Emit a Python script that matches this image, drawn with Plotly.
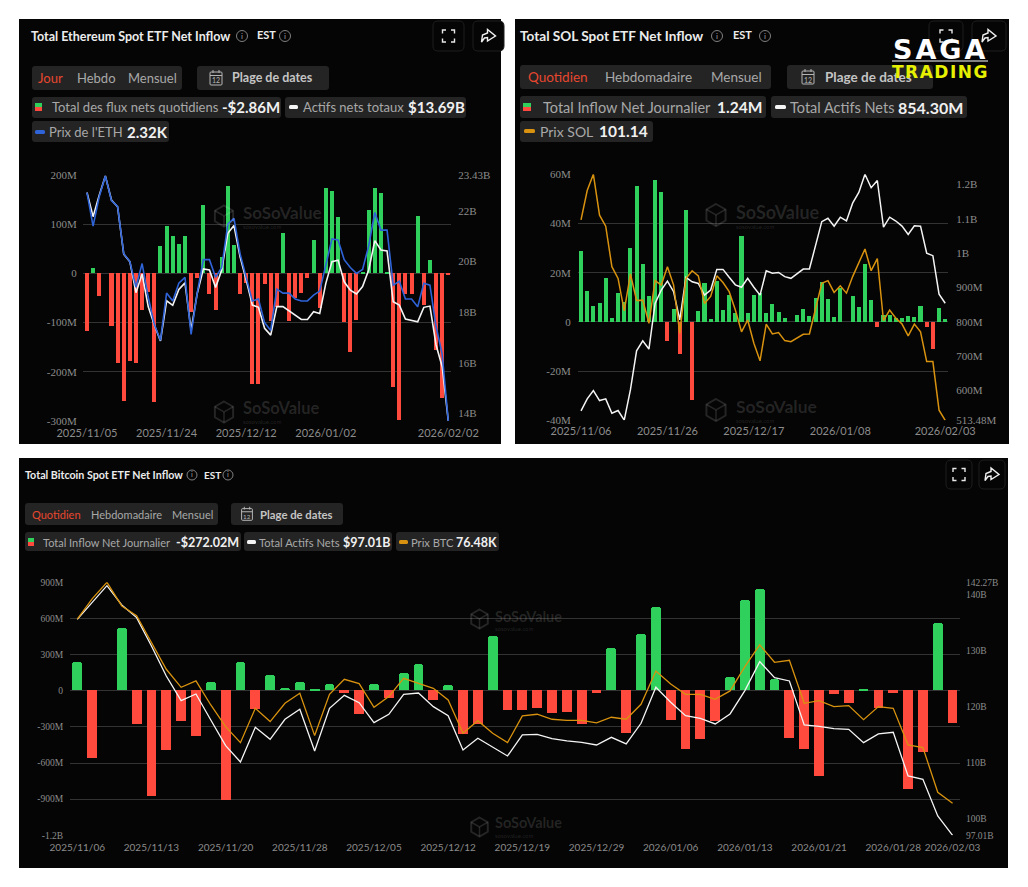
import plotly.graph_objects as go

W, H = 1028, 887

# ---------- data ----------
eth_dates = ["2025/11/05","2025/11/06","2025/11/07","2025/11/10","2025/11/11","2025/11/12","2025/11/13","2025/11/14","2025/11/17","2025/11/18",
             "2025/11/19","2025/11/20","2025/11/21","2025/11/24","2025/11/25","2025/11/26","2025/11/28","2025/12/01","2025/12/02","2025/12/03",
             "2025/12/04","2025/12/05","2025/12/08","2025/12/09","2025/12/10","2025/12/11","2025/12/12","2025/12/15","2025/12/16","2025/12/17",
             "2025/12/18","2025/12/19","2025/12/22","2025/12/23","2025/12/24","2025/12/26","2025/12/29","2025/12/30","2025/12/31","2026/01/02",
             "2026/01/05","2026/01/06","2026/01/07","2026/01/08","2026/01/09","2026/01/12","2026/01/13","2026/01/14","2026/01/15","2026/01/16",
             "2026/01/20","2026/01/21","2026/01/22","2026/01/23","2026/01/26","2026/01/27","2026/01/28","2026/01/29","2026/01/30","2026/02/02"]
eth_ticks = ["2025/11/05","2025/11/24","2025/12/12","2026/01/02","2026/02/02"]
eth_flow = [-118,12,-46,0,-106,-183,-259,-178,-183,-75,-37,-261,55,96,77,60,76,-79,-10,140,-41,-75,34,177,57,-41,-19,-224,-224,-22,
            -97,-68,83,-96,-51,-39,-10,67,-71,174,168,114,-98,-159,-94,3,129,174,164,3,-230,-297,-42,-42,117,-64,27,-155,-253,-2.86]
eth_assets = [22.74,21.78,22.63,23.39,22.44,22.17,20.30,20.00,18.77,19.51,18.22,17.49,16.86,18.45,18.27,18.90,19.16,17.29,18.74,19.71,
              19.67,18.98,19.67,21.12,21.43,20.19,19.27,18.28,18.19,17.36,17.09,18.22,18.22,18.04,17.86,17.71,17.71,18.02,17.95,19.14,
              20.00,20.06,19.20,18.87,18.72,19.01,19.67,20.83,20.46,20.42,18.41,18.28,17.73,17.69,17.62,18.19,18.24,16.70,15.84,13.69]
eth_price = [3.48,3.31,3.46,3.565,3.44,3.41,3.17,3.13,3.00,3.12,2.95,2.81,2.73,2.97,2.93,3.02,3.05,2.76,2.97,3.14,
             3.14,3.05,3.10,3.32,3.35,3.17,3.05,2.93,2.94,2.82,2.78,2.99,2.97,2.97,2.94,2.93,2.93,2.96,2.98,3.12,
             3.245,3.24,3.14,3.10,3.07,3.09,3.21,3.38,3.29,3.29,3.01,3.03,2.94,2.94,2.90,3.02,3.01,2.80,2.66,2.32]

sol_dates = ["2025/11/06","2025/11/07","2025/11/10","2025/11/11","2025/11/12","2025/11/13","2025/11/14","2025/11/17","2025/11/18","2025/11/19",
             "2025/11/20","2025/11/21","2025/11/24","2025/11/25","2025/11/26","2025/11/28","2025/12/01","2025/12/02","2025/12/03","2025/12/04",
             "2025/12/05","2025/12/08","2025/12/09","2025/12/10","2025/12/11","2025/12/12","2025/12/15","2025/12/16","2025/12/17","2025/12/18",
             "2025/12/19","2025/12/22","2025/12/23","2025/12/24","2025/12/26","2025/12/29","2025/12/30","2025/12/31","2026/01/02","2026/01/05",
             "2026/01/06","2026/01/07","2026/01/08","2026/01/09","2026/01/12","2026/01/13","2026/01/14","2026/01/15","2026/01/16","2026/01/20",
             "2026/01/21","2026/01/22","2026/01/23","2026/01/26","2026/01/27","2026/01/28","2026/01/29","2026/01/30","2026/02/02","2026/02/03"]
sol_ticks = ["2025/11/06","2025/11/26","2025/12/17","2026/01/08","2026/02/03"]
sol_flow = [28.9,12.3,6.5,7.7,17.8,1.4,11.8,8,29.8,55.3,23.4,10.4,57.7,52.8,-7.9,5.1,-13.3,45.5,-32,4.3,
            15.6,1,16.5,4.7,10.8,3.4,35,3.4,10.8,11.5,3.4,7.3,4.1,1.4,0,2.8,5,2.2,9.5,16,
            9.1,1.9,13.8,0,10.6,5.8,23.3,8.8,-2,2.8,2.8,1.4,1.6,2.2,1.9,6.5,-2,-11.1,5.4,1.24]
sol_assets = [541,576,600,571,576,534,542,514,602,716,745,721,854,893,919,888,806,930,917,912,
              878,893,953,953,930,908,901,927,901,878,949,942,944,932,927,940,954,954,1024,1092,
              1102,1079,1105,1094,1146,1177,1230,1191,1212,1076,1105,1094,1079,1055,1080,1079,1000,993,881,854.3]
sol_price = [155.6,163.6,168.0,156.9,153.9,142.9,139.7,130.9,140.9,133.7,133.8,127.5,139.1,137.9,142.9,137.9,124.8,139.7,141.8,140.4,
             132.9,134.8,140.4,138.6,136.1,131.1,125.2,128.4,122.1,117.3,127.3,124.6,125.0,122.8,122.5,123.6,124.5,124.6,131.9,138.4,
             139.1,135.9,137.7,135.7,140.2,143.8,147.7,141.8,145.1,128.2,131.1,128.9,127.3,124.1,127.3,125.2,117.1,117.1,103.9,101.14]

btc_ticks = ["2025/11/06","2025/11/13","2025/11/20","2025/11/28","2025/12/05","2025/12/12","2025/12/19",
             "2025/12/29","2026/01/06","2026/01/13","2026/01/21","2026/01/28","2026/02/03"]
btc_flow = [235,-562,0,520,-282,-875,-498,-257,-376,72,-908,235,-152,125,17,69,6,55,-19,-199,
            50,-66,147,219,-80,44,-365,-282,454,-166,-160,-144,-191,-177,-280,-20,349,-351,465,692,
            -244,-487,-401,-255,111,747,839,94,-396,-484,-711,-33,-105,6,-144,-22,-819,-512,556,-272.02]
btc_assets = [135.65,138.69,141.67,138.21,135.95,130.88,125.51,121.10,122.29,117.64,113.05,110.13,116.33,114.18,117.76,119.55,112.10,119.73,122.05,120.74,
              117.17,118.66,122.23,122.47,120.03,118.42,112.28,114.36,112.75,111.20,114.96,115.08,114.30,113.89,113.65,113.17,114.54,113.35,117.05,123.49,
              120.80,118.42,117.94,116.93,118.72,122.89,128.08,125.22,124.62,116.75,116.51,116.09,115.97,113.59,115.14,115.44,107.62,107.03,100.47,97.01]
btc_price = [101.49,104.25,106.51,103.30,101.98,98.31,94.69,92.24,93.11,89.84,86.90,84.72,89.39,87.58,90.07,91.43,85.68,91.29,93.33,92.74,
             89.53,90.98,93.47,92.79,92.11,90.52,85.99,87.71,85.99,84.72,88.35,88.58,87.90,87.76,87.76,87.40,88.17,87.90,89.93,94.46,
             92.70,91.29,91.29,90.61,91.75,95.05,98.00,95.64,95.91,90.07,90.43,89.62,89.75,87.85,89.62,89.39,84.41,84.05,77.97,76.48]

# ---------- styling ----------
PANEL = "#050505"
PILL = "#242424"
GRID = "#333333"
TICK = "#8c8c8c"
GREEN = "#2fd05c"
RED = "#ff4a3d"
WHITE = "#f4f4f4"
BLUE = "#2f63d8"
ORANGE = "#d8920f"
ACTIVE = "#e8472f"
SANS = "Lato"
SERIF = "Liberation Serif"

def px(x): return x / W
def py(y): return 1 - y / H

shapes, notes = [], []

def rect(x0, y0, x1, y1, fill, r=3, line=None):
    d = (f"M{px(x0+r)},{py(y0)} L{px(x1-r)},{py(y0)} Q{px(x1)},{py(y0)} {px(x1)},{py(y0+r)} "
         f"L{px(x1)},{py(y1-r)} Q{px(x1)},{py(y1)} {px(x1-r)},{py(y1)} L{px(x0+r)},{py(y1)} "
         f"Q{px(x0)},{py(y1)} {px(x0)},{py(y1-r)} L{px(x0)},{py(y0+r)} Q{px(x0)},{py(y0)} {px(x0+r)},{py(y0)} Z")
    shapes.append(dict(type="path", path=d, xref="paper", yref="paper", fillcolor=fill,
                       line=dict(color=line or fill, width=1 if line else 0), layer="below"))

def poly(points, color, width=1.2, fill=None, close=False, layer="below"):
    d = "M" + " L".join(f"{px(a)},{py(b)}" for a, b in points) + (" Z" if close else "")
    shapes.append(dict(type="path", path=d, xref="paper", yref="paper",
                       fillcolor=fill or "rgba(0,0,0,0)", line=dict(color=color, width=width), layer=layer))

def text(x, y, s, size, color, bold=False, font=SANS, anchor="left", spacing=None):
    body = f"<b>{s}</b>" if bold else s
    if spacing:
        body = f'<span style="letter-spacing:{spacing}px">{body}</span>'
    notes.append(dict(x=px(x), y=py(y), xref="paper", yref="paper", text=body,
                      showarrow=False, xanchor=anchor, yanchor="middle",
                      font=dict(family=font, size=size, color=color), borderpad=0, borderwidth=0))

def circle(cx, cy, r, color, width=1):
    shapes.append(dict(type="circle", xref="paper", yref="paper", x0=px(cx-r), x1=px(cx+r),
                       y0=py(cy+r), y1=py(cy-r), line=dict(color=color, width=width), layer="below"))

def info(cx, cy, r=5.5):
    circle(cx, cy, r, "#808080")
    text(cx, cy, "i", r*1.5, "#9a9a9a", anchor="center")

def icon_boxes(x1, x2, y0, y1, w):
    border = "#1e1e1e"
    rect(x1, y0, x1+w, y1, PANEL, 5, border)
    rect(x2, y0, x2+w, y1, PANEL, 5, border)
    cx, cy = x1+w/2, (y0+y1)/2
    s = 6
    c = "#e8e8e8"
    for sx in (-1, 1):
        for sy in (-1, 1):
            poly([(cx+sx*s, cy+sy*2.5), (cx+sx*s, cy+sy*s), (cx+sx*2.5, cy+sy*s)], c, 1.4)
    cx, cy = x2+w/2, (y0+y1)/2
    poly([(cx-7, cy+6), (cx-6, cy-1), (cx-1, cy-3), (cx-1, cy-6.5), (cx+7, cy), (cx-1, cy+5),
          (cx-1, cy+1.5), (cx-4, cy+2)], "#f0f0f0", 1.4, close=True)

def calendar(cx, cy, s=1.0):
    c = "#b5b5b5"
    rect(cx-6*s, cy-6*s, cx+6*s, cy+7*s, "rgba(0,0,0,0)", 1, c)
    poly([(cx-6*s, cy-2.5*s), (cx+6*s, cy-2.5*s)], c, 1)
    poly([(cx-3*s, cy-8*s), (cx-3*s, cy-5*s)], c, 1)
    poly([(cx+3*s, cy-8*s), (cx+3*s, cy-5*s)], c, 1)
    text(cx, cy+2.5*s, "12", 7*s, c, anchor="center")

def square_swatch(x0, y0, w, h):
    rect(x0, y0, x0+w, y0+h/2, GREEN, 0)
    rect(x0, y0+h/2, x0+w, y0+h, RED, 0)

def watermark(x, y, size, r, gap, main_y, sub_y):
    c = "rgba(255,255,255,0.13)"
    hexa = [(x, y-r), (x+r*.87, y-r/2), (x+r*.87, y+r/2), (x, y+r), (x-r*.87, y+r/2), (x-r*.87, y-r/2)]
    poly(hexa, c, 2, close=True, layer="above")
    poly([(x-r*.87, y-r/2), (x, y), (x+r*.87, y-r/2)], c, 1.5, layer="above")
    poly([(x, y), (x, y+r)], c, 1.5, layer="above")
    text(x+gap, main_y, "SoSoValue", size, c, bold=True)
    text(x+gap, sub_y, "sosovalue.com", 6, c)

# panels
rect(19, 19, 501, 444, PANEL, 0)
rect(515, 19, 1009, 444, PANEL, 0)
rect(19, 458, 1008, 868, PANEL, 0)

# ---- ETH header
text(31, 36, "Total Ethereum Spot ETF Net Inflow", 12.5, "#ececec", bold=True)
info(242, 36); text(257, 35, "EST", 11, "#ececec", bold=True); info(285, 36)
icon_boxes(433, 473, 21, 51, 31)
rect(32, 66, 182, 90, PILL, 3)
text(38, 78, "Jour", 13, ACTIVE); text(77, 78, "Hebdo", 13, "#a8a8a8"); text(128, 78, "Mensuel", 13, "#a8a8a8")
rect(197, 66, 329, 90, PILL, 3)
calendar(216, 78); text(232, 78, "Plage de dates", 12.5, "#c4c4c4", bold=True)
rect(32, 97, 281, 118, PILL, 3)
square_swatch(35, 103, 7, 8)
text(52, 107.5, "Total des flux nets quotidiens", 13, "#a8a8a8"); text(222, 107.5, "-$2.86M", 15, "#f0f0f0", bold=True)
rect(285, 97, 466, 118, PILL, 3)
rect(289, 105, 298, 109, WHITE, 1.5)
text(303, 107.5, "Actifs nets totaux", 13, "#a8a8a8"); text(408, 107.5, "$13.69B", 15, "#f0f0f0", bold=True)
rect(32, 121, 169, 142, PILL, 3)
rect(35, 130, 45, 134, BLUE, 1.5)
text(49, 132, "Prix de l'ETH", 13, "#a8a8a8"); text(127, 132, "2.32K", 15, "#f0f0f0", bold=True)

# ---- SOL header
text(520, 36, "Total SOL Spot ETF Net Inflow", 13.6, "#ececec", bold=True)
info(717, 36); text(733, 35, "EST", 11, "#ececec", bold=True); info(765, 36)
icon_boxes(929, 972, 21, 51, 34)
rect(520, 65, 771, 89, PILL, 3)
text(528, 77, "Quotidien", 13.5, ACTIVE); text(605, 77, "Hebdomadaire", 13.5, "#a8a8a8"); text(711, 77, "Mensuel", 13.5, "#a8a8a8")
rect(787, 65, 933, 89, PILL, 3)
calendar(808, 77); text(825, 77, "Plage de dates", 13.5, "#c4c4c4", bold=True)
rect(520, 96, 766, 118, PILL, 3)
square_swatch(523, 103, 8, 8)
text(543, 107, "Total Inflow Net Journalier", 14.5, "#a8a8a8"); text(717, 107, "1.24M", 15.5, "#f0f0f0", bold=True)
rect(771, 96, 967, 118, PILL, 3)
rect(775, 105, 786, 109, WHITE, 1.5)
text(790, 107, "Total Actifs Nets", 14.5, "#a8a8a8"); text(898, 107, "854.30M", 16, "#f0f0f0", bold=True)
rect(520, 121, 653, 142, PILL, 3)
rect(524, 129, 535, 133, ORANGE, 1.5)
text(540, 131, "Prix SOL", 14, "#a8a8a8"); text(599, 131, "101.14", 15.5, "#f0f0f0", bold=True)

# ---- BTC header
text(25, 475, "Total Bitcoin Spot ETF Net Inflow", 10.7, "#ececec", bold=True)
info(192, 475, 5); text(204, 474.5, "EST", 10, "#ececec", bold=True); info(228, 475, 5)
icon_boxes(946, 979, 460, 489, 26)
rect(25, 503, 218, 525, PILL, 3)
text(32, 514, "Quotidien", 11, ACTIVE); text(91, 514, "Hebdomadaire", 11, "#a8a8a8"); text(172, 514, "Mensuel", 11, "#a8a8a8")
rect(231, 503, 343, 525, PILL, 3)
calendar(247, 514, 0.9); text(260, 514, "Plage de dates", 11.3, "#c4c4c4", bold=True)
rect(25, 532, 241, 551, PILL, 3)
square_swatch(28, 538, 6, 8)
text(43, 542, "Total Inflow Net Journalier", 11, "#a8a8a8"); text(176, 542, "-$272.02M", 12.5, "#f0f0f0", bold=True)
rect(244, 532, 392, 551, PILL, 3)
rect(247, 540, 256, 544, WHITE, 1.5)
text(259, 542, "Total Actifs Nets", 11.2, "#a8a8a8"); text(343, 542, "$97.01B", 12.5, "#f0f0f0", bold=True)
rect(396, 532, 499, 551, PILL, 3)
rect(399, 540, 408, 544, ORANGE, 1.5)
text(411, 542, "Prix BTC", 11.2, "#a8a8a8"); text(456, 542, "76.48K", 12.5, "#f0f0f0", bold=True)

# watermarks
watermark(224, 216, 17, 10.5, 19, 212.5, 226)
watermark(224, 412, 16.5, 10.5, 19, 408, 421.5)
watermark(716, 215, 18, 11, 20, 212, 226)
watermark(716, 410, 17.5, 11, 20, 406, 420)
watermark(479.5, 619, 14.5, 9.5, 15, 616, 628.5)
watermark(479.5, 827, 14.5, 9.5, 15, 822.5, 835)

# SAGA TRADING logo
text(940, 49, "SAGA", 27, "#ffffff", bold=True, font="DejaVu Sans", anchor="center", spacing=3)
poly([(892, 61), (988, 61)], "#ffffff", 1.2, layer="above")
text(940, 72, "TRADING", 17, "#e6f000", bold=True, font="DejaVu Sans", anchor="center", spacing=1.5)

# ---------- charts ----------
fig = go.Figure()

def panel(idx, left, right, top, bottom, dates, ticks, flow, assets, price, line_color,
          xr, yl_range, yl_vals, yl_text, yr_range, yr_vals, yr_text, pr_range,
          xsize, ysize, radius, lw, len_x, len_l, len_r):
    xa = f"x{idx}"
    ya, yb, yc = f"y{3*idx-2}", f"y{3*idx-1}", f"y{3*idx}"
    colors = [GREEN if v >= 0 else RED for v in flow]
    fig.add_trace(go.Bar(x=dates, y=flow, width=0.66, marker=dict(color=colors, line_width=0,
                         cornerradius=radius), xaxis=xa, yaxis=ya, showlegend=False))
    fig.add_trace(go.Scatter(x=dates, y=assets, mode="lines", line=dict(color=WHITE, width=lw),
                             xaxis=xa, yaxis=yb, showlegend=False, cliponaxis=False))
    fig.add_trace(go.Scatter(x=dates, y=price, mode="lines", line=dict(color=line_color, width=lw),
                             xaxis=xa, yaxis=yc, showlegend=False, cliponaxis=False))
    key = "xaxis" if idx == 1 else f"xaxis{idx}"
    dom_x = [left/W, right/W]
    dom_y = [1-bottom/H, 1-top/H]
    layout = {}
    layout[key] = dict(domain=dom_x, type="category", categoryorder="array", categoryarray=dates,
                       range=xr, tickmode="array", tickvals=ticks, ticktext=ticks, showgrid=False,
                       showline=False, zeroline=False, ticks="outside", ticklen=len_x, tickcolor="rgba(0,0,0,0)",
                       tickangle=0, tickfont=dict(family=SANS, size=xsize, color=TICK), anchor=ya)
    ykey = lambda n: "yaxis" if n == 1 else f"yaxis{n}"
    layout[ykey(3*idx-2)] = dict(domain=dom_y, range=yl_range, tickmode="array", tickvals=yl_vals,
                                 ticktext=yl_text, showgrid=True, gridcolor=GRID, gridwidth=1, zeroline=False,
                                 showline=False, ticks="outside", ticklen=len_l, tickcolor="rgba(0,0,0,0)",
                                 tickfont=dict(family=SERIF, size=ysize, color=TICK), anchor=xa, side="left")
    layout[ykey(3*idx-1)] = dict(domain=dom_y, range=yr_range, tickmode="array", tickvals=yr_vals,
                                 ticktext=yr_text, showgrid=False, zeroline=False, showline=False,
                                 ticks="outside", ticklen=len_r, tickcolor="rgba(0,0,0,0)",
                                 tickfont=dict(family=SERIF, size=ysize, color=TICK), anchor=xa, side="right",
                                 overlaying=ya)
    layout[ykey(3*idx)] = dict(domain=dom_y, range=pr_range, visible=False, anchor=xa, overlaying=ya)
    fig.update_layout(**layout)

panel(1, 83, 451, 175, 421, eth_dates, eth_ticks, eth_flow, eth_assets, eth_price, BLUE,
      [-0.65, 59.44], [-300, 200], [200, 100, 0, -100, -200, -300],
      ["200M", "100M", "0", "-100M", "-200M", "-300M"],
      [13.69, 23.43], [23.43, 22, 20, 18, 16, 14], ["23.43B", "22B", "20B", "18B", "16B", "14B"],
      [2.32, 3.57], 11, 11, 1, 1.6, 2, 3, 4)
panel(2, 578, 948, 174.3, 420.3, sol_dates, sol_ticks, sol_flow, sol_assets, sol_price, ORANGE,
      [-0.49, 59.45], [-40, 60], [60, 40, 20, 0, -20, -40], ["60M", "40M", "20M", "0", "-20M", "-40M"],
      [513.48, 1230], [1200, 1100, 1000, 900, 800, 700, 600, 513.48],
      ["1.2B", "1.1B", "1B", "900M", "800M", "700M", "600M", "513.48M"],
      [101.14, 168.0], 11, 11, 1, 1.5, 0, 4, 5)
panel(3, 70, 960, 582.3, 835.3, sol_dates, btc_ticks, btc_flow, btc_assets, btc_price, ORANGE,
      [-0.49, 59.5], [-1200, 900], [900, 600, 300, 0, -300, -600, -900, -1200],
      ["900M", "600M", "300M", "0", "-300M", "-600M", "-900M", "-1.2B"],
      [97.01, 142.27], [142.27, 140, 130, 120, 110, 100, 97.01],
      ["142.27B", "140B", "130B", "120B", "110B", "100B", "97.01B"],
      [72.13, 106.51], 10, 9.5, 2, 1.3, 3, 4, 3)

fig.update_layout(width=W, height=H, margin=dict(l=0, r=0, t=0, b=0, autoexpand=False), paper_bgcolor="#ffffff",
                  plot_bgcolor="rgba(0,0,0,0)", shapes=shapes, annotations=notes, showlegend=False,
                  bargap=0, hovermode=False)

fig.write_html("out.html", config=dict(displayModeBar=False),
               post_script="document.body.style.margin='0';document.body.style.overflow='hidden';")
